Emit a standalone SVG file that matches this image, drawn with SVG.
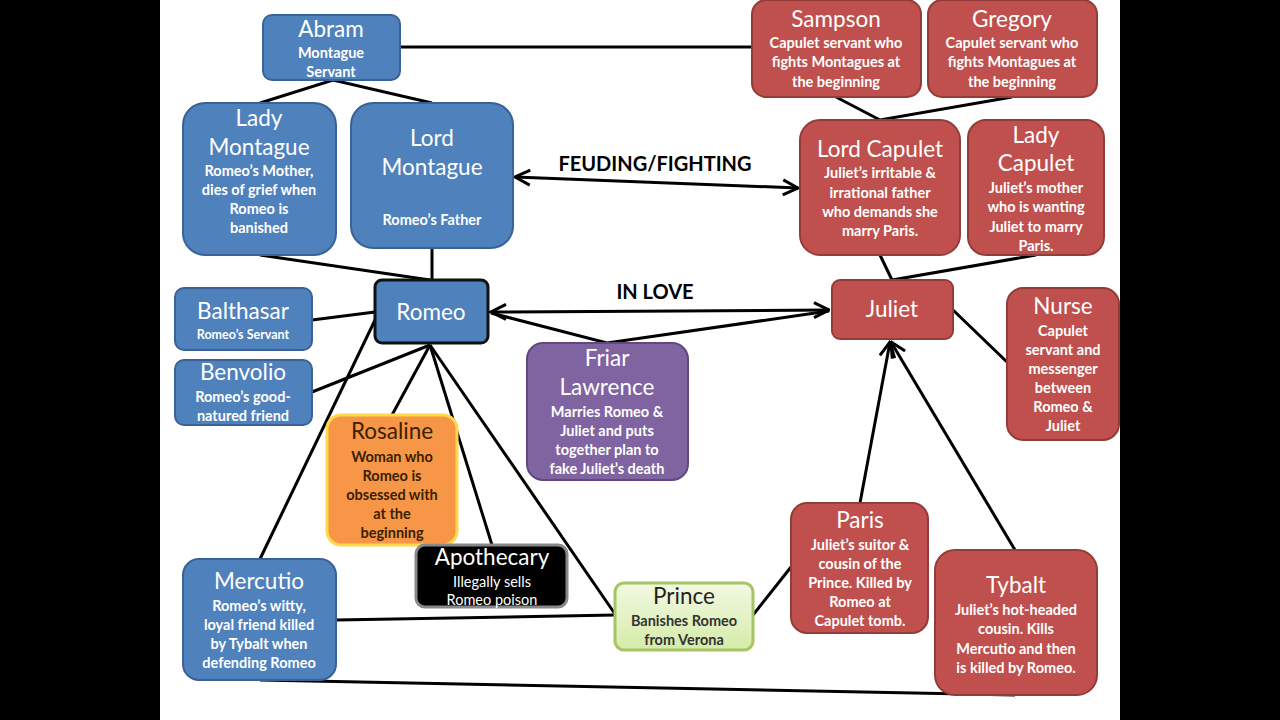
<svg xmlns="http://www.w3.org/2000/svg" width="1280" height="720" viewBox="0 0 1280 720">
<style>
text{font-family:Lato,"Open Sans","Liberation Sans",sans-serif;text-anchor:middle}
.t{font-size:22.5px;fill:#fff}
.d{font-size:14.5px;font-weight:bold;fill:#fff}
.blue{fill:#4f81bd;stroke:#3a6296;stroke-width:2}
.red{fill:#c0504d;stroke:#943c3a;stroke-width:2}
.purple{fill:#8064a2;stroke:#5f4a7a;stroke-width:2}
.lab{font-size:20px;font-weight:bold;fill:#000}
.c line,.c polyline{stroke:#000;stroke-width:3;fill:none}
.dk{fill:#3a2100}
.pk{fill:#222}
</style>
<defs>
<marker id="ah" viewBox="0 0 12 12" refX="11" refY="6" markerWidth="6" markerHeight="6" orient="auto-start-reverse" markerUnits="strokeWidth">
<path d="M1,1 L11,6 L1,11" fill="none" stroke="#000" stroke-width="2"/>
</marker>
<linearGradient id="pg" x1="0" y1="0" x2="0" y2="1"><stop offset="0" stop-color="#f2f9e3"/><stop offset="1" stop-color="#d5eba8"/></linearGradient>
</defs>
<rect x="0" y="0" width="1280" height="720" fill="#fff"/>

<g class="c" id="connectors">
<line x1="400" y1="47" x2="752" y2="47"/>
<polyline points="260,103 333,80 432,103"/>
<line x1="432" y1="248" x2="432" y2="280"/>
<line x1="260" y1="255" x2="430" y2="280"/>
<line x1="515" y1="177" x2="798" y2="188" marker-start="url(#ah)" marker-end="url(#ah)"/>
<line x1="491" y1="312" x2="829" y2="310" marker-start="url(#ah)" marker-end="url(#ah)"/>
<polyline points="491,313 607,343 829,311"/>
<line x1="312" y1="320" x2="375" y2="312"/>
<line x1="312" y1="392" x2="430" y2="345"/>
<line x1="376" y1="318" x2="260" y2="559"/>
<line x1="430" y1="345" x2="392" y2="415"/>
<line x1="430" y1="345" x2="492" y2="545"/>
<line x1="430" y1="345" x2="615" y2="614"/>
<line x1="336" y1="620" x2="615" y2="615"/>
<line x1="753" y1="615" x2="791" y2="567"/>
<line x1="260" y1="680" x2="1015" y2="695"/>
<line x1="860" y1="503" x2="890" y2="342" marker-end="url(#ah)"/>
<line x1="1015" y1="550" x2="891" y2="342" marker-end="url(#ah)"/>
<line x1="953" y1="310" x2="1007" y2="362"/>
<polyline points="880,255 892,280 1036,255"/>
<polyline points="836,97 880,120 1012,97"/>
</g>

<text class="lab" x="655" y="171">FEUDING/FIGHTING</text>
<text class="lab" x="655" y="299">IN LOVE</text>

<g id="abram">
<rect class="blue" x="263" y="15" width="137" height="65" rx="9"/>
<text class="t" x="331" y="37">Abram</text>
<text class="d" x="331" y="58">Montague</text>
<text class="d" x="331" y="77">Servant</text>
</g>
<g id="lady-montague">
<rect class="blue" x="183" y="103" width="153" height="152" rx="22"/>
<text class="t" x="259" y="126">Lady</text>
<text class="t" x="259" y="155">Montague</text>
<text class="d" x="259" y="176">Romeo’s Mother,</text>
<text class="d" x="259" y="195">dies of grief when</text>
<text class="d" x="259" y="214">Romeo is</text>
<text class="d" x="259" y="233">banished</text>
</g>
<g id="lord-montague">
<rect class="blue" x="351" y="103" width="162" height="145" rx="22"/>
<text class="t" x="432" y="146">Lord</text>
<text class="t" x="432" y="175">Montague</text>
<text class="d" x="432" y="225">Romeo’s Father</text>
</g>
<g id="romeo">
<rect x="375" y="280" width="113" height="63" rx="7" fill="#4f81bd" stroke="#111" stroke-width="3"/>
<text class="t" x="431" y="320">Romeo</text>
</g>
<g id="balthasar">
<rect class="blue" x="175" y="288" width="137" height="62" rx="9"/>
<text class="t" x="243" y="319">Balthasar</text>
<text class="d" x="243" y="339" style="font-size:12.5px">Romeo’s Servant</text>
</g>
<g id="benvolio">
<rect class="blue" x="175" y="360" width="137" height="65" rx="9"/>
<text class="t" x="243" y="380">Benvolio</text>
<text class="d" x="243" y="402">Romeo’s good-</text>
<text class="d" x="243" y="421">natured friend</text>
</g>
<g id="rosaline">
<rect x="327" y="415" width="130" height="130" rx="14" fill="#f79646" stroke="#ffd84a" stroke-width="3"/>
<text class="t dk" x="392" y="439">Rosaline</text>
<text class="d dk" x="392" y="462">Woman who</text>
<text class="d dk" x="392" y="481">Romeo is</text>
<text class="d dk" x="392" y="500">obsessed with</text>
<text class="d dk" x="392" y="519">at the</text>
<text class="d dk" x="392" y="538">beginning</text>
</g>
<g id="apothecary">
<rect x="416" y="545" width="151" height="62" rx="9" fill="#000" stroke="#888" stroke-width="3"/>
<text class="t" x="492" y="565">Apothecary</text>
<text class="d" x="492" y="587" style="font-weight:normal">Illegally sells</text>
<text class="d" x="492" y="605" style="font-weight:normal">Romeo poison</text>
</g>
<g id="friar-lawrence">
<rect class="purple" x="527" y="343" width="161" height="137" rx="16"/>
<text class="t" x="607" y="366">Friar</text>
<text class="t" x="607" y="395">Lawrence</text>
<text class="d" x="607" y="417">Marries Romeo &amp;</text>
<text class="d" x="607" y="436">Juliet and puts</text>
<text class="d" x="607" y="455">together plan to</text>
<text class="d" x="607" y="474">fake Juliet’s death</text>
</g>
<g id="mercutio">
<rect class="blue" x="183" y="559" width="153" height="121" rx="16"/>
<text class="t" x="259" y="589">Mercutio</text>
<text class="d" x="259" y="611">Romeo’s witty,</text>
<text class="d" x="259" y="630">loyal friend killed</text>
<text class="d" x="259" y="649">by Tybalt when</text>
<text class="d" x="259" y="668">defending Romeo</text>
</g>
<g id="prince">
<rect x="615" y="583" width="138" height="67" rx="9" fill="url(#pg)" stroke="#a8c464" stroke-width="3"/>
<text class="t pk" x="684" y="604">Prince</text>
<text class="d pk" x="684" y="626" style="fill:#333">Banishes Romeo</text>
<text class="d pk" x="684" y="645" style="fill:#333">from Verona</text>
</g>
<g id="sampson">
<rect class="red" x="752" y="0" width="169" height="97" rx="14"/>
<text class="t" x="836" y="27">Sampson</text>
<text class="d" x="836" y="48">Capulet servant who</text>
<text class="d" x="836" y="67">fights Montagues at</text>
<text class="d" x="836" y="87">the beginning</text>
</g>
<g id="gregory">
<rect class="red" x="928" y="0" width="169" height="97" rx="14"/>
<text class="t" x="1012" y="27">Gregory</text>
<text class="d" x="1012" y="48">Capulet servant who</text>
<text class="d" x="1012" y="67">fights Montagues at</text>
<text class="d" x="1012" y="87">the beginning</text>
</g>
<g id="lord-capulet">
<rect class="red" x="800" y="120" width="160" height="135" rx="20"/>
<text class="t" x="880" y="157">Lord Capulet</text>
<text class="d" x="880" y="178">Juliet’s irritable &amp;</text>
<text class="d" x="880" y="198">irrational father</text>
<text class="d" x="880" y="217">who demands she</text>
<text class="d" x="880" y="236">marry Paris.</text>
</g>
<g id="lady-capulet">
<rect class="red" x="968" y="120" width="136" height="135" rx="18"/>
<text class="t" x="1036" y="143">Lady</text>
<text class="t" x="1036" y="171">Capulet</text>
<text class="d" x="1036" y="193">Juliet’s mother</text>
<text class="d" x="1036" y="212">who is wanting</text>
<text class="d" x="1036" y="232">Juliet to marry</text>
<text class="d" x="1036" y="251">Paris.</text>
</g>
<g id="juliet">
<rect class="red" x="832" y="280" width="121" height="59" rx="8"/>
<text class="t" x="892" y="317">Juliet</text>
</g>
<g id="nurse">
<rect class="red" x="1007" y="288" width="112" height="152" rx="16"/>
<text class="t" x="1063" y="314">Nurse</text>
<text class="d" x="1063" y="336">Capulet</text>
<text class="d" x="1063" y="355">servant and</text>
<text class="d" x="1063" y="374">messenger</text>
<text class="d" x="1063" y="393">between</text>
<text class="d" x="1063" y="412">Romeo &amp;</text>
<text class="d" x="1063" y="431">Juliet</text>
</g>
<g id="paris">
<rect class="red" x="791" y="503" width="137" height="130" rx="16"/>
<text class="t" x="860" y="528">Paris</text>
<text class="d" x="860" y="550">Juliet’s suitor &amp;</text>
<text class="d" x="860" y="569">cousin of the</text>
<text class="d" x="860" y="588">Prince. Killed by</text>
<text class="d" x="860" y="607">Romeo at</text>
<text class="d" x="860" y="626">Capulet tomb.</text>
</g>
<g id="tybalt">
<rect class="red" x="935" y="550" width="162" height="145" rx="20"/>
<text class="t" x="1016" y="593">Tybalt</text>
<text class="d" x="1016" y="615">Juliet’s hot-headed</text>
<text class="d" x="1016" y="634">cousin. Kills</text>
<text class="d" x="1016" y="654">Mercutio and  then</text>
<text class="d" x="1016" y="673">is killed by Romeo.</text>
</g>

<rect x="0" y="0" width="160" height="720" fill="#000"/>
<rect x="1120" y="0" width="160" height="720" fill="#000"/>
</svg>
